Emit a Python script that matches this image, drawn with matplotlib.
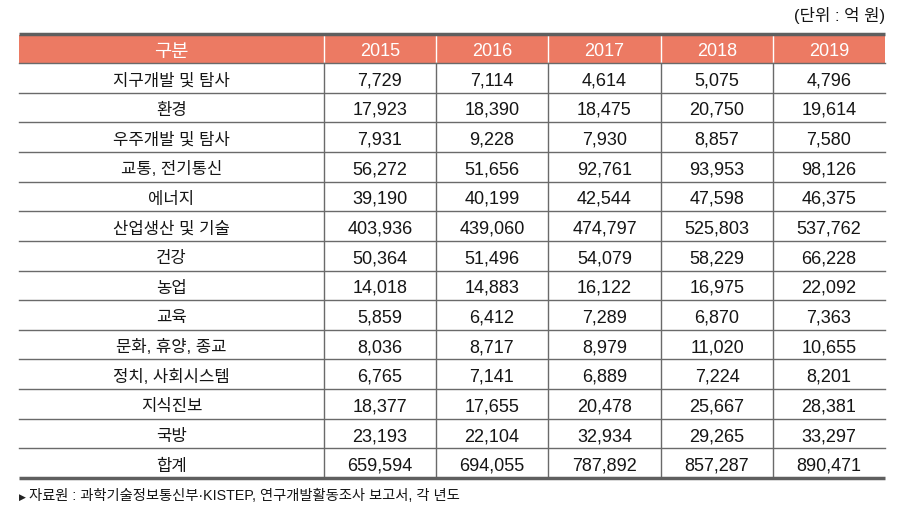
import matplotlib.pyplot as plt
from matplotlib.patches import Rectangle

plt.rcParams['font.family'] = ['Liberation Sans', 'Noto Sans CJK KR', 'DejaVu Sans']

categories = ["지구개발 및 탐사", "환경", "우주개발 및 탐사", "교통, 전기통신", "에너지",
              "산업생산 및 기술", "건강", "농업", "교육", "문화, 휴양, 종교",
              "정치, 사회시스템", "지식진보", "국방", "합계"]
years = ["2015", "2016", "2017", "2018", "2019"]
v2015 = [7729, 17923, 7931, 56272, 39190, 403936, 50364, 14018, 5859, 8036, 6765, 18377, 23193, 659594]
v2016 = [7114, 18390, 9228, 51656, 40199, 439060, 51496, 14883, 6412, 8717, 7141, 17655, 22104, 694055]
v2017 = [4614, 18475, 7930, 92761, 42544, 474797, 54079, 16122, 7289, 8979, 6889, 20478, 32934, 787892]
v2018 = [5075, 20750, 8857, 93953, 47598, 525803, 58229, 16975, 6870, 11020, 7224, 25667, 29265, 857287]
v2019 = [4796, 19614, 7580, 98126, 46375, 537762, 66228, 22092, 7363, 10655, 8201, 28381, 33297, 890471]
series = [v2015, v2016, v2017, v2018, v2019]

W, H = 897, 516
fig = plt.figure(figsize=(W / 100, H / 100), dpi=100)
ax = fig.add_axes([0, 0, 1, 1])
ax.set_xlim(0, W)
ax.set_ylim(H, 0)
ax.axis('off')

col_edges = [19, 324, 436, 548, 661, 773, 885]
top, head_bot, bot = 35, 63, 478
row_h = (bot - head_bot) / len(categories)
header_color = '#EC7A63'
line_color = '#6a6a6a'
txt_color = '#151515'
num_fs = 13
kor_fs = 12

# header
ax.add_patch(Rectangle((col_edges[0], top), col_edges[-1] - col_edges[0], head_bot - top,
                       facecolor=header_color, edgecolor='none'))
headers = ["구분"] + years
for i, h in enumerate(headers):
    cx = (col_edges[i] + col_edges[i + 1]) / 2
    ax.text(cx, (top + head_bot) / 2 + 7.5, h, color='white',
            fontsize=13.5 if i == 0 else num_fs, ha='center', va='baseline')
for x in col_edges[1:-1]:
    ax.plot([x, x], [top, head_bot], color='white', lw=1)

# body
for r, cat in enumerate(categories):
    y0 = head_bot + r * row_h
    base = y0 + row_h / 2 + 7.5
    ax.text((col_edges[0] + col_edges[1]) / 2, base, cat, fontsize=kor_fs,
            ha='center', va='baseline', color=txt_color)
    for c, s in enumerate(series):
        cx = (col_edges[c + 1] + col_edges[c + 2]) / 2
        ax.text(cx, base, f"{s[r]:,}", fontsize=num_fs, ha='center', va='baseline',
                color=txt_color)
    if r > 0:
        ax.plot([col_edges[0], col_edges[-1]], [y0, y0], color=line_color, lw=1)
for x in col_edges[1:-1]:
    ax.plot([x, x], [head_bot, bot], color=line_color, lw=1)

ax.plot([col_edges[0], col_edges[-1]], [top - 1, top - 1], color='#5f5f5f', lw=2.5, solid_capstyle='butt')
ax.plot([col_edges[0], col_edges[-1]], [head_bot, head_bot], color=line_color, lw=1)
ax.plot([col_edges[0], col_edges[-1]], [bot, bot], color='#5f5f5f', lw=2.5, solid_capstyle='butt')

ax.text(col_edges[-1], 21, "(단위 : 억 원)", fontsize=12, ha='right', va='baseline', color=txt_color)
ax.text(col_edges[0], 500, "▶", fontsize=6.5, ha='left', va='baseline', color='#222222',
        family=['DejaVu Sans'])
ax.text(col_edges[0] + 10, 500, "자료원 : 과학기술정보통신부·KISTEP, 연구개발활동조사 보고서, 각 년도",
        fontsize=10.3, ha='left', va='baseline', color=txt_color)

fig.savefig('out.png', dpi=100)
